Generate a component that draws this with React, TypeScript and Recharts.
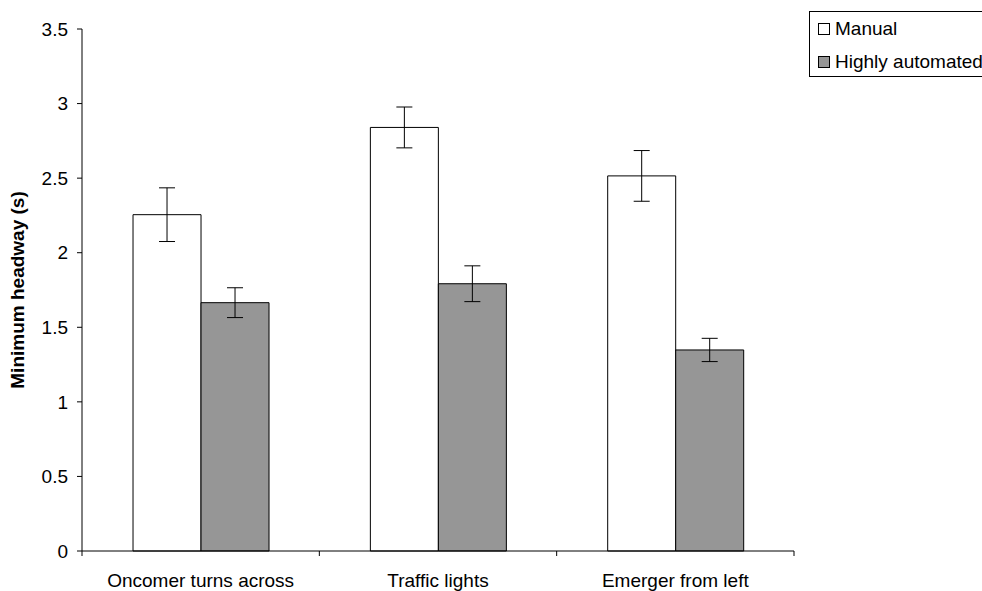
import { BarChart, Bar, XAxis, YAxis, ErrorBar } from "recharts";

const CATEGORIES = ["Oncomer turns across", "Traffic lights", "Emerger from left"];
const MANUAL = [2.255, 2.84, 2.515];
const MANUAL_ERR = [0.18, 0.137, 0.17];
const AUTOMATED = [1.665, 1.792, 1.348];
const AUTOMATED_ERR = [0.1, 0.12, 0.078];
const Y_TICKS = [0, 0.5, 1, 1.5, 2, 2.5, 3, 3.5];

const SERIES = [
  { key: "manual", errKey: "manualErr", label: "Manual", color: "#ffffff" },
  { key: "automated", errKey: "automatedErr", label: "Highly automated", color: "#969696" },
];

const data = CATEGORIES.map((category, i) => ({
  category,
  manual: MANUAL[i],
  manualErr: MANUAL_ERR[i],
  automated: AUTOMATED[i],
  automatedErr: AUTOMATED_ERR[i],
}));

const FONT = "'Liberation Sans', Arial, sans-serif";
const FONT_SIZE = 19;

// category label + tick marks on the band edges (Excel style)
function EdgeTick(props: any) {
  const { x, y, payload, index } = props;
  const half = payload?.offset ?? 712 / 3 / 2;
  const last = index === CATEGORIES.length - 1;
  return (
    <g>
      <line x1={x - half} x2={x - half} y1={y} y2={y + 5} stroke="#000" />
      {last && <line x1={x + half} x2={x + half} y1={y} y2={y + 5} stroke="#000" />}
      <text x={x} y={y + 36} textAnchor="middle" fill="#000" fontSize={FONT_SIZE} fontFamily={FONT}>
        {payload.value}
      </text>
    </g>
  );
}

export default function App() {
  return (
    <div
      style={{
        position: "absolute",
        left: 0,
        top: 0,
        width: 982,
        height: 591,
        overflow: "hidden",
        background: "#fff",
        fontFamily: FONT,
      }}
    >
      <BarChart
        width={982}
        height={591}
        data={data}
        margin={{ top: 29, right: 188, bottom: 0, left: 0 }}
        barCategoryGap="21.5%"
        barGap={0}
      >
        <XAxis
          dataKey="category"
          height={40}
          interval={0}
          axisLine={{ stroke: "#000" }}
          tickLine={false}
          tickSize={0}
          tickMargin={0}
          tick={<EdgeTick />}
        />
        <YAxis
          domain={[0, 3.5]}
          ticks={Y_TICKS}
          width={82}
          tickSize={5}
          tickMargin={9}
          axisLine={{ stroke: "#000" }}
          tickLine={{ stroke: "#000" }}
          tick={{ fill: "#000", fontSize: FONT_SIZE, fontFamily: FONT }}
          label={{
            value: "Minimum headway (s)",
            angle: -90,
            position: "center",
            dx: -24,
            style: { fontWeight: "bold", fontSize: FONT_SIZE, fill: "#000", fontFamily: FONT },
          }}
        />
        {SERIES.map((s) => (
          <Bar
            key={s.key}
            dataKey={s.key}
            name={s.label}
            fill={s.color}
            stroke="#000"
            strokeWidth={1}
            isAnimationActive={false}
          >
            <ErrorBar dataKey={s.errKey} width={8} stroke="#000" strokeWidth={1} />
          </Bar>
        ))}
      </BarChart>
      <div
        style={{
          position: "absolute",
          left: 809,
          top: 11,
          width: 200,
          height: 64,
          border: "1px solid #000",
          background: "#fff",
          fontSize: FONT_SIZE,
        }}
      >
        {SERIES.map((s, i) => (
          <div
            key={s.key}
            style={{
              position: "absolute",
              left: 8,
              top: 7 + i * 33,
              display: "flex",
              alignItems: "center",
              whiteSpace: "nowrap",
              lineHeight: "20px",
            }}
          >
            <span
              style={{
                display: "inline-block",
                width: 10,
                height: 10,
                border: "1px solid #000",
                background: s.color,
                marginRight: 5,
              }}
            />
            {s.label}
          </div>
        ))}
      </div>
    </div>
  );
}
